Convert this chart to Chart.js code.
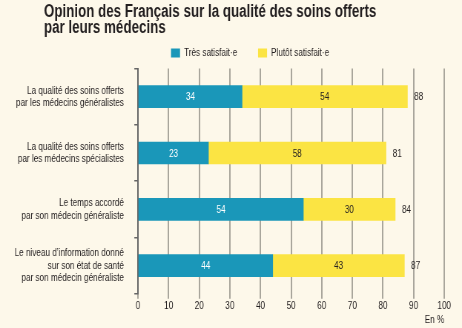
<!DOCTYPE html>
<html><head><meta charset="utf-8">
<script src="https://cdn.jsdelivr.net/npm/chart.js@4"></script>
<style>
html,body{margin:0;padding:0;background:#fdf8ea;overflow:hidden;}
#c{display:block;width:462px;height:328px;}
</style></head>
<body><canvas id="c" width="623" height="328" style="width:462px;height:328px"></canvas>
<script>
const categories = [
  ["La qualité des soins offerts","par les médecins généralistes"],
  ["La qualité des soins offerts","par les médecins spécialistes"],
  ["Le temps accordé","par son médecin généraliste"],
  ["Le niveau d’information donné","sur son état de santé","par son médecin généraliste"]
];
const tresSatisfait = [34, 23, 54, 44];
const plutotSatisfait = [54, 58, 30, 43];
const totals = [88, 81, 84, 87];
const seriesNames = ["Très satisfait·e", "Plutôt satisfait·e"];
const xTicks = [0,10,20,30,40,50,60,70,80,90,100];
const titleLines = ["Opinion des Français sur la qualité des soins offerts", "par leurs médecins"];
const unitLabel = "En %";

// horizontal condensing factor: canvas is drawn wider, then shown at 462px
const SX = 462 / 623;
const FONT = "'Liberation Sans', Arial, Helvetica, sans-serif";
const INK = '#231f20';

const labelPlugin = {
  id: 'labels',
  afterDatasetsDraw(chart) {
    const ctx = chart.ctx;
    ctx.save();
    ctx.font = "11px " + FONT;
    ctx.textBaseline = 'middle';
    ctx.textAlign = 'center';
    chart.data.datasets.forEach((ds, di) => {
      const meta = chart.getDatasetMeta(di);
      meta.data.forEach((el, i) => {
        const cx = (el.x + el.base) / 2;
        ctx.fillStyle = di === 0 ? '#ffffff' : INK;
        ctx.fillText(String(ds.data[i]), cx, el.y + 0.5);
      });
    });
    const last = chart.getDatasetMeta(chart.data.datasets.length - 1);
    ctx.textAlign = 'left';
    ctx.fillStyle = INK;
    last.data.forEach((el, i) => {
      ctx.fillText(String(totals[i]), el.x + 9, el.y + 0.5);
    });
    ctx.restore();
  }
};

const placePlugin = {
  id: 'place',
  beforeDraw(chart) {
    const ctx = chart.ctx;
    ctx.save();
    ctx.fillStyle = '#fdf8ea';
    ctx.fillRect(0, 0, chart.width, chart.height);
    ctx.restore();
  },
  afterLayout(chart) {
    // title starts at x=44 and legend box at x=171 (screen px)
    const t = chart.titleBlock;
    const w = t.right - t.left;
    t.left = 44 / SX; t.right = t.left + w;
    const lg = chart.legend;
    const lw = lg.right - lg.left;
    const pad = lg.options.labels.padding;
    lg.left = 171 / SX - pad; lg.right = lg.left + lw;
  }
};

new Chart(document.getElementById('c'), {
  type: 'bar',
  data: {
    labels: categories,
    datasets: [
      { label: seriesNames[0], data: tresSatisfait, backgroundColor: '#1a97b9', barThickness: 22 },
      { label: seriesNames[1], data: plutotSatisfait, backgroundColor: '#fbe443', barThickness: 22 }
    ]
  },
  options: {
    indexAxis: 'y',
    responsive: false,
    animation: false,
    devicePixelRatio: 1,
    layout: { padding: { left: 0, right: 24, top: 0, bottom: 3 } },
    plugins: {
      title: {
        display: true, text: titleLines, align: 'start', color: INK,
        font: { family: FONT, size: 18, weight: 'bold', lineHeight: 16.5/18 },
        padding: { top: 3.5, bottom: -17 }
      },
      legend: {
        display: true, align: 'start',
        labels: { boxWidth: 9 / SX, boxHeight: 9, color: INK, font: { family: FONT, size: 11, lineHeight: 1.0 }, padding: 28 }
      },
      tooltip: { enabled: false }
    },
    scales: {
      x: {
        stacked: true, min: 0, max: 100,
        afterBuildTicks(scale) { scale.ticks = xTicks.map(v => ({ value: v })); },
        ticks: { color: INK, font: { family: FONT, size: 11 }, padding: 1, maxRotation: 0 },
        grid: { color: '#a9a69c', lineWidth: 2, tickLength: 5, drawTicks: true },
        border: { display: false },
        title: { display: true, text: unitLabel, align: 'end', color: INK, font: { family: FONT, size: 11, lineHeight: 1.0 }, padding: { top: 0, bottom: 0 } }
      },
      y: {
        stacked: true,
        afterFit(scale) { scale.width = 138 / SX; },
        ticks: { color: INK, font: { family: FONT, size: 11, lineHeight: 1.12 }, padding: 14 },
        grid: { offset: true, drawOnChartArea: false, tickLength: 5, color: '#666', lineWidth: 1.5 },
        border: { display: true, color: '#666', width: 2 }
      }
    }
  },
  plugins: [placePlugin, labelPlugin]
});
</script></body></html>
